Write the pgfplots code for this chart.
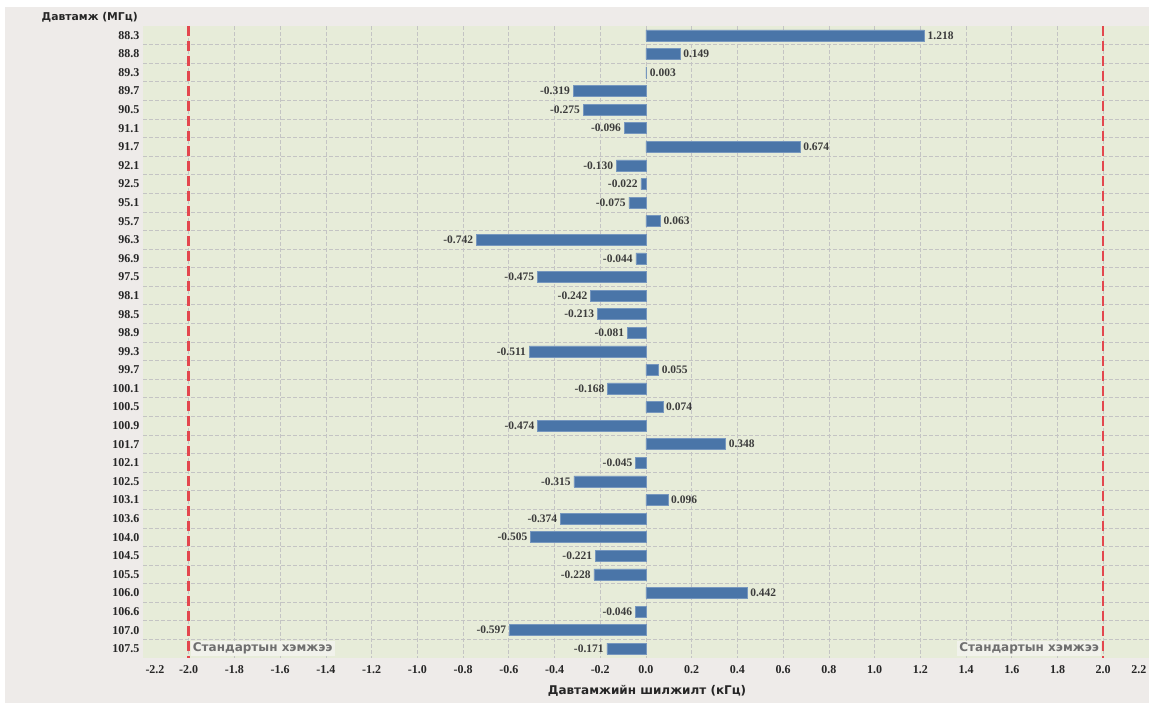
\documentclass[border=0pt]{standalone}
\usepackage{pgfplots}
\pgfplotsset{compat=1.18}
\usepackage{pgfplotstable}
\usepackage{fontspec}
\setmainfont{Liberation Serif}
\newfontfamily\dejavu{DejaVu Sans}

\definecolor{outerbg}{HTML}{EEEBE9}
\definecolor{plotbg}{HTML}{E7ECD9}
\definecolor{barblue}{HTML}{4A75A8}
\definecolor{gridgray}{HTML}{C4C4C4}
\definecolor{limred}{HTML}{E3474E}
\definecolor{labgray}{HTML}{6E6E6E}
\definecolor{labbg}{HTML}{F1F2EB}
\definecolor{valtext}{HTML}{3C3C3C}

\pgfplotstableread{
idx freq val
0 88.3 1.218
1 88.8 0.149
2 89.3 0.003
3 89.7 -0.319
4 90.5 -0.275
5 91.1 -0.096
6 91.7 0.674
7 92.1 -0.130
8 92.5 -0.022
9 95.1 -0.075
10 95.7 0.063
11 96.3 -0.742
12 96.9 -0.044
13 97.5 -0.475
14 98.1 -0.242
15 98.5 -0.213
16 98.9 -0.081
17 99.3 -0.511
18 99.7 0.055
19 100.1 -0.168
20 100.5 0.074
21 100.9 -0.474
22 101.7 0.348
23 102.1 -0.045
24 102.5 -0.315
25 103.1 0.096
26 103.6 -0.374
27 104.0 -0.505
28 104.5 -0.221
29 105.5 -0.228
30 106.0 0.442
31 106.6 -0.046
32 107.0 -0.597
33 107.5 -0.171
}\datatable

\begin{document}
\begin{tikzpicture}
\fill[white] (0,0) rectangle (1149pt,705pt);
\fill[outerbg] (5pt,2pt) rectangle (1149pt,698pt);
\begin{axis}[
    at={(143pt,47pt)}, anchor=south west,
    scale only axis, width=1006pt, height=632pt,
    xbar, bar width=11pt,
    xmin=-2.2, xmax=2.2,
    ymin=-0.5, ymax=33.5, y dir=reverse,
    ytick={0,...,33},
    yticklabels from table={\datatable}{freq},
    minor ytick={0.5,1.5,...,32.5},
    xtick={-2.0,-1.8,-1.6,-1.4,-1.2,-1.0,-0.8,-0.6,-0.4,-0.2,0,0.2,0.4,0.6,0.8,1.0,1.2,1.4,1.6,1.8,2.0},
    extra x ticks={-2.2,2.2},
    extra x tick labels={\hspace*{24pt}-2.2,2.2\hspace*{20pt}},
    extra x tick style={grid=none},
    xmajorgrids, yminorgrids,
    major grid style={gridgray, dash pattern=on 3.5pt off 2.5pt, line width=0.7pt},
    minor grid style={gridgray, dash pattern=on 3.5pt off 2.5pt, line width=0.7pt},
    axis background/.style={fill=plotbg},
    axis line style={draw=none},
    major tick length=0pt, minor tick length=0pt,
    tick label style={font=\fontsize{12}{14}\selectfont\bfseries, text=black!85},
    /pgf/number format/assume math mode=true,
    x tick label style={/pgf/number format/.cd, fixed, fixed zerofill, precision=1},
    xticklabel shift=4pt,
    clip=false,
]
\addplot[fill=barblue, draw=barblue!75!white, line width=0.5pt,
    point meta=x,
    nodes near coords={\pgfmathprintnumber[fixed,fixed zerofill,precision=3]{\pgfplotspointmeta}},
    nodes near coords align=horizontal,
    every node near coord/.append style={font=\fontsize{11.5}{13}\selectfont\bfseries, text=valtext, inner sep=3pt}]
    table[x=val, y=idx] {\datatable};
\addplot[sharp plot, limred, line width=2.5pt, dash pattern=on 10pt off 5pt, forget plot]
    coordinates {(-2,-0.5) (-2,33.5)};
\addplot[sharp plot, limred, line width=2.5pt, dash pattern=on 10pt off 5pt, forget plot]
    coordinates {(2,-0.5) (2,33.5)};
\node[anchor=west, fill=labbg, text=labgray, inner sep=2pt,
      font=\dejavu\bfseries\fontsize{12}{14}\selectfont]
      at (axis cs:-2,33) [xshift=2pt] {Стандартын хэмжээ};
\node[anchor=east, fill=labbg, text=labgray, inner sep=2pt,
      font=\dejavu\bfseries\fontsize{12}{14}\selectfont]
      at (axis cs:2,33) [xshift=-2pt] {Стандартын хэмжээ};
\end{axis}
\node[anchor=east, inner sep=0pt, font=\dejavu\bfseries\fontsize{10.8}{13}\selectfont, text=black!85]
    at (138pt,688pt) {Давтамж (МГц)};
\node[font=\dejavu\bfseries\fontsize{12}{14}\selectfont, text=black!85]
    at (647pt,14pt) {Давтамжийн шилжилт (кГц)};
\pgfresetboundingbox
\path (0,0) rectangle (1149pt,705pt);
\end{tikzpicture}
\end{document}
